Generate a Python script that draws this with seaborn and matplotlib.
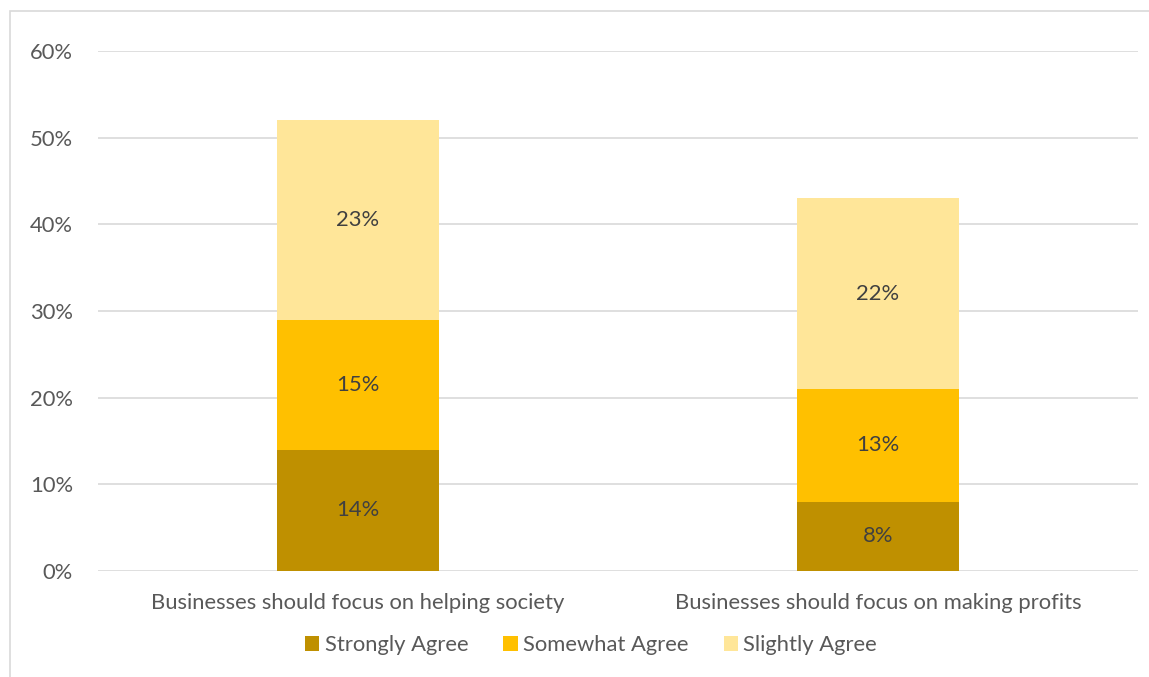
import matplotlib
matplotlib.use("Agg")
import matplotlib.pyplot as plt
import seaborn as sns
import pandas as pd
import numpy as np
from matplotlib.patches import Rectangle, Patch

categories = ["Businesses should focus on helping society", "Businesses should focus on making profits"]
series = ["Strongly Agree", "Somewhat Agree", "Slightly Agree"]
strongly = [14, 8]
somewhat = [15, 13]
slightly = [23, 22]
colors = ["#BF9000", "#FFC000", "#FFE699"]
yticks = [0, 10, 20, 30, 40, 50, 60]

sns.set_theme(style="white")
plt.rcParams['font.family'] = ['Lato', 'DejaVu Sans']

W, H = 1149, 677
fig = plt.figure(figsize=(W / 100, H / 100), dpi=100)
ax = fig.add_axes([98 / W, 1 - 571 / H, (1138 - 98) / W, (571 - 51) / H])

# outer border
fig.patches.append(Rectangle((10 / W, -0.01), 1.0, 1 - 11 / H + 0.01, transform=fig.transFigure,
                             fill=False, edgecolor="#D9D9D9", linewidth=1.2, zorder=0))

FS = 15.8
df = pd.DataFrame({"cat": categories, "Strongly Agree": strongly,
                   "Somewhat Agree": somewhat, "Slightly Agree": slightly})
bottom = np.zeros(len(categories))
for s, c in zip(series, colors):
    vals = np.array(df[s], dtype=float)
    sns.barplot(x=df["cat"], y=vals, bottom=bottom, color=c, width=0.313, ax=ax,
                saturation=1, zorder=3, linewidth=0, edgecolor="none")
    for i, v in enumerate(vals):
        ax.text(i, bottom[i] + v / 2, f"{int(v)}%", ha="center", va="center",
                fontsize=FS, color="#404040", zorder=4)
    bottom += vals

ax.set_ylim(0, 60)
ax.set_xlim(-0.5, 1.5)
ax.set_yticks(yticks)
ax.set_yticklabels([f"{t}%" for t in yticks])
ax.yaxis.grid(True, color="#D9D9D9", linewidth=1.2, zorder=0)
ax.set_axisbelow(True)
for sp in ax.spines.values():
    sp.set_visible(False)
ax.set_xlabel("")
ax.set_ylabel("")
ax.tick_params(axis="y", length=0, pad=18, labelsize=FS, labelcolor="#595959")
ax.tick_params(axis="x", length=0, pad=16, labelsize=FS, labelcolor="#595959")

handles = [Patch(facecolor=c, edgecolor="none") for c in colors]
fig.legend(handles, series, loc="center", bbox_to_anchor=(591 / W, 1 - 645 / H), ncol=3,
           frameon=False, fontsize=FS, handlelength=0.65, handleheight=0.65,
           handletextpad=0.25, columnspacing=1.6, labelcolor="#595959")

fig.savefig("out.png", dpi=100)
